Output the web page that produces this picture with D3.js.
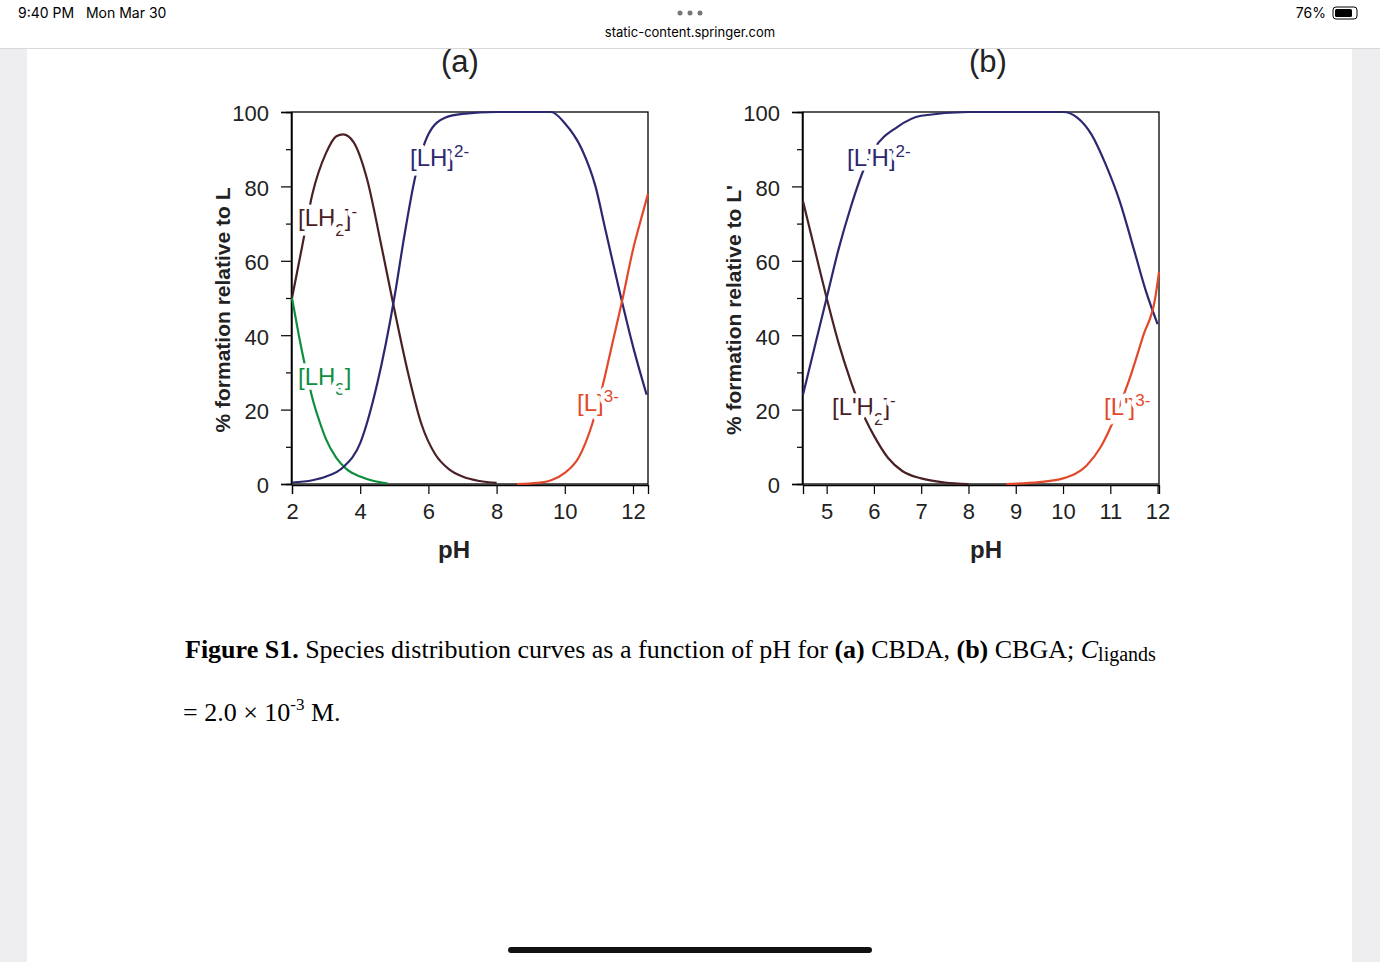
<!DOCTYPE html>
<html><head><meta charset="utf-8">
<script src="https://cdn.jsdelivr.net/npm/d3@7"></script>
<style>body{margin:0;background:#fff}svg{display:block}</style>
</head><body><svg id="c" width="1380" height="962"></svg>
<script>
// Panel (a) CBDA
const a_LH3 = [[2.0,50],[2.2,40],[2.4,31],[2.6,23],[2.8,17],[3.0,12],[3.3,7],[3.6,4],[4.0,2],[4.4,0.8],[4.8,0.2]];
const a_LH2 = [[2.0,50],[2.3,64],[2.6,78],[3.0,89],[3.3,93.5],[3.5,94],[3.8,92],[4.2,82],[4.6,65],[5.0,47],[5.4,30],[5.8,16],[6.2,8],[6.6,4],[7.0,2],[7.5,0.8],[8.0,0.3]];
const a_LH  = [[2.0,0.4],[2.6,1],[3.0,2],[3.5,4.5],[4.0,11],[4.5,27],[5.0,50],[5.3,67],[5.6,82],[6.0,94],[6.5,98.5],[7.0,99.5],[8,100],[9,100],[9.6,100],[10.0,97],[10.5,90],[10.9,80],[11.2,68],[11.6,52],[12.0,37],[12.4,24]];
const a_L   = [[8.6,0],[9.2,0.3],[9.6,1],[10.0,3],[10.4,7],[10.8,16],[11.1,26],[11.4,38],[11.7,50],[12.0,63],[12.2,70],[12.44,78]];
// Panel (b) CBGA
const b_LH2 = [[4.5,76],[4.75,63],[5.0,50],[5.25,38],[5.5,28],[5.8,18],[6.0,13],[6.3,7],[6.6,3.5],[7.0,1.5],[7.5,0.4],[8.0,0]];
const b_LH  = [[4.5,24],[4.75,37],[5.0,50],[5.25,63],[5.5,74],[5.8,85],[6.0,90],[6.5,96],[7.0,99],[8,100],[10,100],[10.3,98.5],[10.6,94],[10.9,86],[11.2,76],[11.5,63],[11.75,52],[12.0,43]];
const b_L   = [[8.8,0],[9.5,0.5],[10.0,1.5],[10.5,5],[10.8,10],[11.1,18],[11.4,28],[11.7,40],[11.95,50],[12.03,57]];
const a_xticks = [2,4,6,8,10,12];
const b_xticks = [5,6,7,8,9,10,11,12];
const yticks = [0,20,40,60,80,100];

const svg = d3.select("#c");
svg.append("rect").attr("width",1380).attr("height",962).attr("fill","#eeeef0");
svg.append("rect").attr("x",27).attr("width",1325).attr("height",962).attr("fill","#fff");
svg.append("rect").attr("width",1380).attr("height",48).attr("fill","#fff");
svg.append("line").attr("x1",0).attr("x2",1380).attr("y1",48.5).attr("y2",48.5).attr("stroke","#d8d8d8");
const sb = svg.append("g").attr("font-family","Inter, sans-serif").attr("font-size",14).attr("fill","#000");
sb.append("text").attr("x",18).attr("y",18).text("9:40 PM   Mon Mar 30").attr("xml:space","preserve");
sb.append("text").attr("x",1326).attr("y",18).attr("text-anchor","end").text("76%");
sb.append("rect").attr("x",1333).attr("y",7).attr("width",24).attr("height",12).attr("rx",3).attr("fill","none").attr("stroke","#000");
sb.append("rect").attr("x",1335).attr("y",9).attr("width",17).attr("height",8).attr("rx",1.5).attr("fill","#000");
sb.append("text").attr("x",690).attr("y",37).attr("text-anchor","middle").attr("font-size",13).text("static-content.springer.com");
[680,690,700].forEach(x=>sb.append("circle").attr("cx",x).attr("cy",13).attr("r",2.5).attr("fill","#777"));
svg.append("rect").attr("x",508).attr("y",947).attr("width",364).attr("height",6).attr("rx",3).attr("fill","#111");

const col = {LH3:"#0f8f3e",LH2:"#4a2025",LH:"#2c2870",L:"#e2492b"};
function panel(o){
  const x = d3.scaleLinear().domain(o.xd).range([o.x0,o.x1]);
  const y = d3.scaleLinear().domain([0,100]).range([484,112]);
  const g = svg.append("g").attr("font-family","Liberation Sans, Arial, sans-serif");
  g.append("rect").attr("x",o.x0).attr("y",112).attr("width",o.x1-o.x0).attr("height",372).attr("fill","none").attr("stroke","#000").attr("stroke-width",1.3);
  g.append("g").attr("transform",`translate(${o.x0-1},0)`).call(d3.axisLeft(y).tickValues(yticks).tickSize(10).tickPadding(12));
  g.append("g").attr("transform",`translate(${o.x0-1},0)`).call(d3.axisLeft(y).tickValues([10,30,50,70,90]).tickSize(5).tickFormat(""));
  g.append("g").attr("transform","translate(0,485)").call(d3.axisBottom(x).tickValues(o.xt).tickSize(9).tickPadding(16));
  g.selectAll(".domain").attr("stroke","#000").attr("stroke-width",1.3);
  g.selectAll(".tick line").attr("stroke","#000").attr("stroke-width",1.2);
  g.selectAll(".tick text").attr("font-size",22).attr("fill","#222").attr("font-family","Liberation Sans, Arial, sans-serif").attr("dy","0.4em");
  g.append("text").attr("transform",`translate(${o.yt},310) rotate(-90)`).attr("text-anchor","middle").attr("font-size",21).attr("font-weight","bold").attr("fill","#222").text(o.ylab);
  g.append("text").attr("x",o.px).attr("y",558).attr("text-anchor","middle").attr("font-size",24).attr("font-weight","bold").attr("fill","#222").text("pH");
  g.append("text").attr("x",o.tx).attr("y",72).attr("text-anchor","middle").attr("font-size",31).attr("fill","#222").text(o.title);
  const line = d3.line().x(d=>x(d[0])).y(d=>y(d[1])).curve(d3.curveMonotoneX);
  o.series.forEach(s=>g.append("path").attr("d",line(s.d)).attr("fill","none").attr("stroke",col[s.c]).attr("stroke-width",2.2));
  o.labels.forEach(l=>{
    const t = g.append("text").attr("x",l.x).attr("y",l.y).attr("font-size",24).attr("fill",col[l.c])
      .attr("stroke","#fff").attr("stroke-width",9).attr("stroke-linejoin","round").attr("paint-order","stroke");
    l.parts.forEach(p=>{const ts=t.append("tspan").text(p[0]); if(p[1]) ts.attr("baseline-shift",p[1]).attr("font-size",17);});
  });
}
panel({xd:[2,12.44],x0:292,x1:648,xt:a_xticks,yt:230,px:454,ylab:"% formation relative to L",tx:460,title:"(a)",
  series:[{d:a_LH3,c:"LH3"},{d:a_LH2,c:"LH2"},{d:a_LH,c:"LH"},{d:a_L,c:"L"}],
  labels:[{x:410,y:166,c:"LH",parts:[["[LH]"],["2-","super"]]},
          {x:298,y:226,c:"LH2",parts:[["[LH"],["2","sub"],["]"],["-","super"]]},
          {x:298,y:385,c:"LH3",parts:[["[LH"],["3","sub"],["]"]]},
          {x:577,y:411,c:"L",parts:[["[L]"],["3-","super"]]}]});
panel({xd:[4.5,12.03],x0:803,x1:1159,xt:b_xticks,yt:741,px:986,ylab:"% formation relative to L'",tx:988,title:"(b)",
  series:[{d:b_LH2,c:"LH2"},{d:b_LH,c:"LH"},{d:b_L,c:"L"}],
  labels:[{x:847,y:166,c:"LH",parts:[["[L'H]"],["2-","super"]]},
          {x:832,y:415,c:"LH2",parts:[["[L'H"],["2","sub"],["]"],["-","super"]]},
          {x:1104,y:415,c:"L",parts:[["[L']"],["3-","super"]]}]});
const cap = svg.append("g").attr("font-family","Liberation Serif, Times New Roman, serif").attr("font-size",26).attr("fill","#000");
const t1 = cap.append("text").attr("x",185).attr("y",658);
t1.append("tspan").attr("font-weight","bold").text("Figure S1.");
t1.append("tspan").text(" Species distribution curves as a function of pH for ");
t1.append("tspan").attr("font-weight","bold").text("(a)");
t1.append("tspan").text(" CBDA, ");
t1.append("tspan").attr("font-weight","bold").text("(b)");
t1.append("tspan").text(" CBGA; ");
t1.append("tspan").attr("font-style","italic").text("C");
t1.append("tspan").attr("font-size",20).attr("dy",3).text("ligands");
const t2 = cap.append("text").attr("x",183).attr("y",721);
t2.append("tspan").text("= 2.0 × 10");
t2.append("tspan").attr("font-size",17).attr("dy",-11).text("-3");
t2.append("tspan").attr("dy",11).text(" M.");
</script></body></html>
